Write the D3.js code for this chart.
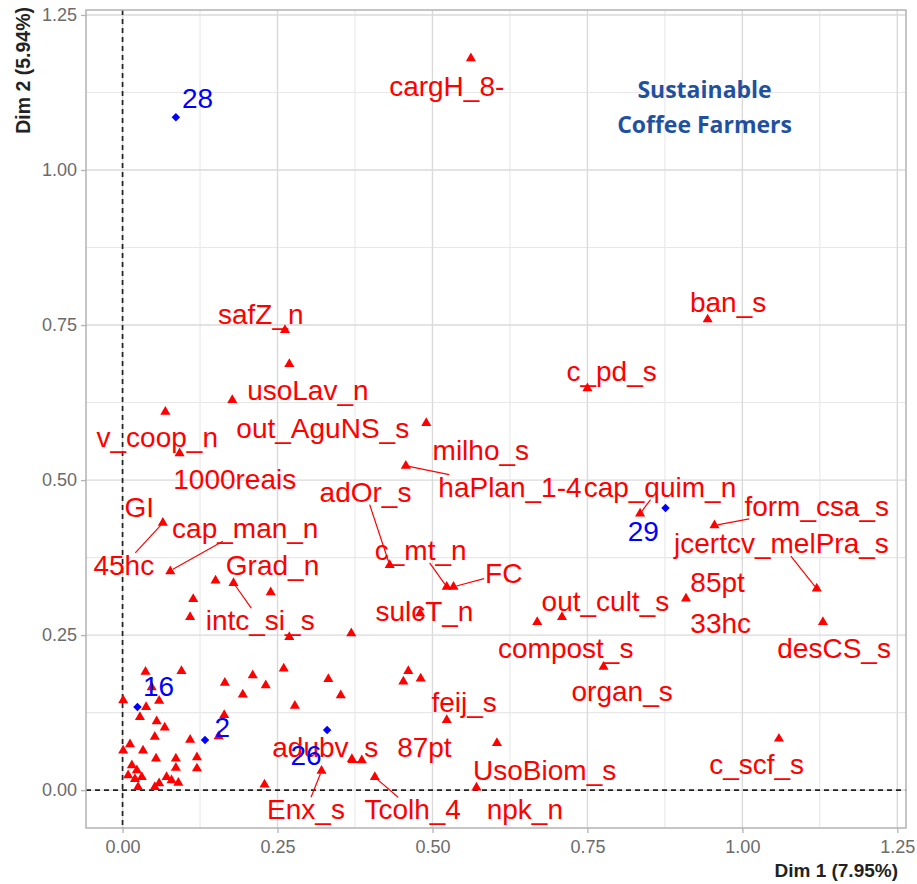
<!DOCTYPE html>
<html>
<head>
<meta charset="utf-8">
<script src="https://cdn.jsdelivr.net/npm/d3@7"></script>
<style>
  body { margin: 0; background: #fff; }
  text { font-family: "Liberation Sans", Arial, sans-serif; }
</style>
</head>
<body>
<svg class="svg-chart" width="917" height="884"></svg>
<script>
// variable categories (Dim 1, Dim 2) - red triangles
var varX = [0.562, 0.262, 0.269, 0.177, 0.069, 0.490, 0.092, 0.457, 0.944, 0.750,
  0.835, 0.955, 0.065, 0.077, 0.431, 0.523, 0.534, 1.120, 0.909, 1.130,
  0.669, 0.709, 0.480, 0.776, 0.150, 0.179, 0.239, 0.114, 0.109, 0.269,
  0.369, 0.523, 0.604, 1.059, 0.571, 0.386, 0.370, 0.407, 0.321, 0.229,
  0.461, 0.453, 0.481, 0.352, 0.332, 0.278, 0.260, 0.231, 0.210, 0.194,
  0.165, 0.164, 0.155, 0.109, 0.120, 0.120, 0.037, 0.095, 0.047, 0.059,
  0.001, 0.038, 0.028, 0.055, 0.068, 0.052, 0.012, 0.001, 0.033, 0.054,
  0.086, 0.086, 0.015, 0.023, 0.009, 0.031, 0.071, 0.090, 0.059, 0.052,
  0.025, 0.079, 0.020];
var varY = [1.180, 0.742, 0.687, 0.629, 0.610, 0.592, 0.543, 0.523, 0.759, 0.648,
  0.446, 0.427, 0.431, 0.353, 0.363, 0.328, 0.328, 0.325, 0.309, 0.271,
  0.271, 0.279, 0.285, 0.199, 0.338, 0.334, 0.319, 0.308, 0.279, 0.247,
  0.253, 0.113, 0.076, 0.083, 0.004, 0.048, 0.050, 0.021, 0.031, 0.009,
  0.192, 0.175, 0.180, 0.153, 0.179, 0.136, 0.196, 0.169, 0.185, 0.154,
  0.173, 0.121, 0.087, 0.081, 0.053, 0.035, 0.191, 0.192, 0.166, 0.144,
  0.145, 0.134, 0.118, 0.111, 0.101, 0.086, 0.074, 0.064, 0.064, 0.051,
  0.051, 0.036, 0.040, 0.032, 0.024, 0.021, 0.021, 0.012, 0.011, 0.005,
  0.005, 0.016, 0.018];

// labelled variables, at the spot where the repel put the text
var labNames = ["cargH_8-", "safZ_n", "usoLav_n", "out_AguNS_s", "v_coop_n", "milho_s",
  "1000reais", "haPlan_1-4", "cap_quim_n", "adOr_s", "GI", "form_csa_s", "cap_man_n",
  "jcertcv_melPra_s", "c_mt_n", "45hc", "Grad_n", "FC", "85pt", "out_cult_s", "sulcT_n",
  "intc_si_s", "33hc", "compost_s", "desCS_s", "organ_s", "feij_s", "adubv_s", "87pt",
  "c_scf_s", "UsoBiom_s", "Enx_s", "Tcolh_4", "npk_n", "ban_s", "c_pd_s"];
var labX = [0.523, 0.223, 0.299, 0.323, 0.056, 0.578, 0.181, 0.625, 0.867, 0.392,
  0.027, 1.120, 0.198, 1.063, 0.481, 0.002, 0.242, 0.615, 0.960, 0.779, 0.487,
  0.222, 0.965, 0.715, 1.148, 0.806, 0.551, 0.327, 0.487, 1.023, 0.681, 0.296,
  0.468, 0.649, 0.977, 0.789];
var labY = [1.135, 0.768, 0.645, 0.584, 0.569, 0.548, 0.502, 0.489, 0.489, 0.481,
  0.457, 0.458, 0.422, 0.398, 0.387, 0.363, 0.363, 0.350, 0.336, 0.304, 0.288,
  0.274, 0.269, 0.229, 0.229, 0.159, 0.142, 0.070, 0.070, 0.042, 0.032, -0.031,
  -0.031, -0.031, 0.787, 0.675];

// labels that got pushed away keep a leader line to their point
var segLabel = ["45hc", "cap_man_n", "intc_si_s", "adOr_s", "c_mt_n", "FC",
  "haPlan_1-4", "cap_quim_n", "form_csa_s", "jcertcv_melPra_s", "Enx_s", "Tcolh_4"];
var segX = [0.065, 0.077, 0.179, 0.431, 0.523, 0.534, 0.457, 0.835, 0.955, 1.120, 0.321, 0.407];
var segY = [0.431, 0.354, 0.334, 0.363, 0.328, 0.328, 0.523, 0.446, 0.427, 0.325, 0.031, 0.021];

// individuals - blue
var indNames = ["28", "29", "16", "2", "26"];
var indX = [0.086, 0.876, 0.024, 0.133, 0.330];
var indY = [1.085, 0.455, 0.134, 0.081, 0.097];
var indLabX = [0.121, 0.840, 0.058, 0.161, 0.296];
var indLabY = [1.116, 0.417, 0.167, 0.102, 0.056];

var xTicks = [0, 0.25, 0.5, 0.75, 1, 1.25];
var yTicks = [0, 0.25, 0.5, 0.75, 1, 1.25];
var xMinor = [0.125, 0.375, 0.625, 0.875, 1.125];
var yMinor = [0.125, 0.375, 0.625, 0.875, 1.125];

var xTitle = "Dim 1 (7.95%)";
var yTitle = "Dim 2 (5.94%)";
var noteLines = ["Sustainable", "Coffee Farmers"];
var noteX = 0.939, noteY = [1.129, 1.073];

var margin = {top: 10, right: 11, bottom: 56, left: 86},
    width = 917 - margin.left - margin.right,
    height = 884 - margin.top - margin.bottom;

var x = d3.scaleLinear().domain([-0.059, 1.264]).range([0, width]);
var y = d3.scaleLinear().domain([-0.061, 1.258]).range([height, 0]);

var svg = d3.select(".svg-chart");
var chart = svg.append("g")
    .attr("transform", "translate(" + margin.left + "," + margin.top + ")");

// grid
chart.selectAll(".minor-x").data(xMinor).enter().append("line")
    .attr("x1", d => x(d)).attr("x2", d => x(d)).attr("y1", 0).attr("y2", height)
    .style("stroke", "#e8e8e8").style("stroke-width", 1.1);
chart.selectAll(".minor-y").data(yMinor).enter().append("line")
    .attr("y1", d => y(d)).attr("y2", d => y(d)).attr("x1", 0).attr("x2", width)
    .style("stroke", "#e8e8e8").style("stroke-width", 1.1);
chart.selectAll(".major-x").data(xTicks).enter().append("line")
    .attr("x1", d => x(d)).attr("x2", d => x(d)).attr("y1", 0).attr("y2", height)
    .style("stroke", "#dadada").style("stroke-width", 1.4);
chart.selectAll(".major-y").data(yTicks).enter().append("line")
    .attr("y1", d => y(d)).attr("y2", d => y(d)).attr("x1", 0).attr("x2", width)
    .style("stroke", "#dadada").style("stroke-width", 1.4);

// zero lines
chart.append("line")
    .attr("x1", 0).attr("x2", width).attr("y1", y(0)).attr("y2", y(0))
    .style("stroke", "#222").style("stroke-width", 1.7).style("stroke-dasharray", "5,4");
chart.append("line")
    .attr("x1", x(0)).attr("x2", x(0)).attr("y1", 0).attr("y2", height)
    .style("stroke", "#222").style("stroke-width", 1.7).style("stroke-dasharray", "5,4");

var segLayer = chart.append("g");

// triangles
var tri = d3.symbol().type(d3.symbolTriangle).size(44);
chart.selectAll(".var").data(varX).enter().append("path")
    .attr("d", tri)
    .attr("transform", (d, i) => "translate(" + x(d) + "," + y(varY[i]) + ")")
    .style("fill", "#ff0000");

// individuals
var dia = d3.symbol().type(d3.symbolSquare).size(36);
chart.selectAll(".ind").data(indX).enter().append("path")
    .attr("d", dia)
    .attr("transform", (d, i) => "translate(" + x(d) + "," + y(indY[i]) + ") rotate(45)")
    .style("fill", "#0000ff");

// variable labels
var labels = chart.selectAll(".lab").data(labNames).enter().append("text")
    .attr("x", (d, i) => x(labX[i]))
    .attr("y", (d, i) => y(labY[i]))
    .attr("dy", "0.35em")
    .attr("text-anchor", "middle")
    .style("font-size", "28px")
    .style("fill", "#ff0000")
    .text(d => d);

chart.selectAll(".indlab").data(indNames).enter().append("text")
    .attr("x", (d, i) => x(indLabX[i]))
    .attr("y", (d, i) => y(indLabY[i]))
    .attr("dy", "0.35em")
    .attr("text-anchor", "middle")
    .style("font-size", "28px")
    .style("fill", "#0000ff")
    .text(d => d);

// leader lines: from the label box edge towards the point
labels.each(function(d, i) {
  var k = segLabel.indexOf(d);
  if (k < 0) return;
  var b = this.getBBox();
  var cx = b.x + b.width / 2, cy = b.y + b.height / 2;
  var hw = b.width / 2 + 1, hh = b.height / 2 - 3;
  var px = x(segX[k]), py = y(segY[k]);
  var dx = px - cx, dy = py - cy;
  var t = Math.min(dx ? hw / Math.abs(dx) : Infinity, dy ? hh / Math.abs(dy) : Infinity);
  var len = Math.sqrt(dx * dx + dy * dy);
  var t2 = 1 - 3 / len;
  segLayer.append("line")
      .attr("x1", cx + dx * t).attr("y1", cy + dy * t)
      .attr("x2", cx + dx * t2).attr("y2", cy + dy * t2)
      .style("stroke", "#ff0000").style("stroke-width", 1.2);
});

// annotation
chart.selectAll(".note").data(noteLines).enter().append("text")
    .attr("x", x(noteX))
    .attr("y", (d, i) => y(noteY[i]))
    .attr("dy", "0.35em")
    .attr("text-anchor", "middle")
    .style("font-family", "'Open Sans', sans-serif")
    .style("font-weight", "bold")
    .style("font-size", "23px")
    .style("fill", "#1f51a0")
    .text(d => d);

// panel border
chart.append("rect")
    .attr("width", width).attr("height", height)
    .style("fill", "none").style("stroke", "#b3b3b3").style("stroke-width", 1.5);

// axes
var xAxis = d3.axisBottom(x).tickValues(xTicks).tickFormat(d3.format(".2f"))
    .tickSize(5).tickPadding(7);
var yAxis = d3.axisLeft(y).tickValues(yTicks).tickFormat(d3.format(".2f"))
    .tickSize(5).tickPadding(4);

var gx = chart.append("g").attr("transform", "translate(0," + height + ")").call(xAxis);
var gy = chart.append("g").call(yAxis);
[gx, gy].forEach(function(g) {
  g.select(".domain").remove();
  g.selectAll("line").style("stroke", "#b3b3b3").style("stroke-width", 1.3);
  g.selectAll("text").style("font-size", "18px").style("fill", "#6b6b6b")
    .style("font-family", "'Liberation Sans', Arial, sans-serif");
});

svg.append("text")
    .attr("x", 898).attr("y", 877)
    .attr("text-anchor", "end")
    .style("font-size", "19px").style("font-weight", "bold").style("fill", "#222")
    .text(xTitle);
svg.append("text")
    .attr("transform", "translate(30,7) rotate(-90)")
    .attr("text-anchor", "end")
    .style("font-size", "19.5px").style("font-weight", "bold").style("fill", "#222")
    .text(yTitle);
</script>
</body>
</html>
